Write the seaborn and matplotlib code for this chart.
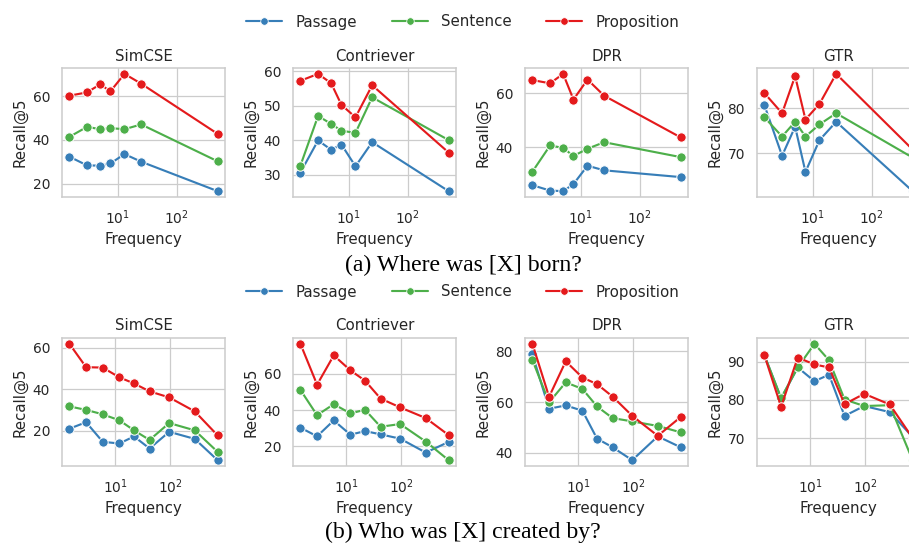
import matplotlib
matplotlib.use("Agg")
import matplotlib.pyplot as plt
from matplotlib.lines import Line2D
import pandas as pd
import seaborn as sns

# ---------------- data ----------------
methods = ["Passage", "Sentence", "Proposition"]
retrievers = ["SimCSE", "Contriever", "DPR", "GTR"]

# (a) Where was [X] born?
freq_a = [1.5, 3, 5, 7.5, 13, 25, 500]
a_simcse_passage = [32.3, 28.3, 28.2, 29.2, 33.5, 30.0, 16.5]
a_simcse_sentence = [41.4, 46.0, 44.9, 45.4, 44.9, 47.1, 30.2]
a_simcse_proposition = [60.3, 61.8, 65.5, 62.3, 70.3, 65.8, 42.8]
a_contriever_passage = [30.7, 40.0, 37.3, 38.8, 32.5, 39.5, 25.3]
a_contriever_sentence = [32.7, 47.1, 44.8, 42.8, 42.2, 52.5, 40.1]
a_contriever_proposition = [57.3, 59.3, 56.6, 50.3, 46.7, 56.0, 36.5]
a_dpr_passage = [26.0, 24.0, 23.8, 26.4, 33.2, 31.5, 29.0]
a_dpr_sentence = [31.0, 40.7, 39.8, 36.8, 39.5, 41.9, 36.4]
a_dpr_proposition = [64.9, 63.7, 67.2, 57.7, 65.1, 59.1, 43.7]
a_gtr_passage = [80.7, 69.4, 75.9, 65.8, 72.9, 77.0, 61.5]
a_gtr_sentence = [78.0, 73.7, 77.0, 73.7, 76.4, 78.9, 69.0]
a_gtr_proposition = [83.4, 78.9, 87.2, 77.5, 81.0, 87.7, 70.8]

# (b) Who was [X] created by?
freq_b = [1.5, 3, 6, 12, 22, 42, 95, 275, 710]
b_simcse_passage = [21.1, 24.2, 14.8, 14.0, 17.4, 11.6, 19.6, 16.2, 6.0]
b_simcse_sentence = [31.8, 30.1, 28.0, 25.1, 20.3, 15.7, 23.8, 20.3, 10.0]
b_simcse_proposition = [61.8, 50.6, 50.4, 45.7, 42.8, 39.0, 36.1, 29.4, 17.9]
b_contriever_passage = [30.3, 25.5, 34.3, 26.4, 28.4, 26.6, 24.2, 16.5, 22.4]
b_contriever_sentence = [51.2, 37.2, 43.3, 38.2, 40.2, 30.8, 32.3, 22.6, 12.3]
b_contriever_proposition = [76.7, 54.1, 70.3, 62.0, 56.3, 46.4, 41.5, 35.6, 26.2]
b_dpr_passage = [78.8, 57.4, 58.7, 56.6, 45.6, 42.2, 37.1, 46.5, 42.2]
b_dpr_sentence = [76.6, 59.9, 67.8, 65.2, 58.3, 53.7, 52.4, 50.6, 48.1]
b_dpr_proposition = [83.0, 62.1, 76.1, 69.7, 67.1, 62.2, 54.6, 46.7, 54.1]
b_gtr_passage = [91.7, 80.4, 88.5, 84.9, 86.6, 75.8, 78.4, 76.8, 70.3]
b_gtr_sentence = [91.7, 80.5, 88.5, 94.7, 90.4, 80.1, 78.4, 78.6, 64.2]
b_gtr_proposition = [91.7, 78.2, 91.1, 89.3, 88.5, 78.9, 81.6, 78.8, 70.0]

captions = ["(a) Where was [X] born?", "(b) Who was [X] created by?"]

series_a = {
    "SimCSE": [a_simcse_passage, a_simcse_sentence, a_simcse_proposition],
    "Contriever": [a_contriever_passage, a_contriever_sentence, a_contriever_proposition],
    "DPR": [a_dpr_passage, a_dpr_sentence, a_dpr_proposition],
    "GTR": [a_gtr_passage, a_gtr_sentence, a_gtr_proposition],
}
series_b = {
    "SimCSE": [b_simcse_passage, b_simcse_sentence, b_simcse_proposition],
    "Contriever": [b_contriever_passage, b_contriever_sentence, b_contriever_proposition],
    "DPR": [b_dpr_passage, b_dpr_sentence, b_dpr_proposition],
    "GTR": [b_gtr_passage, b_gtr_sentence, b_gtr_proposition],
}

yticks_a = [[20, 40, 60], [30, 40, 50, 60], [40, 60], [70, 80]]
yticks_b = [[20, 40, 60], [20, 40, 60], [40, 60, 80], [70, 80, 90]]

# ---------------- style ----------------
sns.set_theme(style="whitegrid")
palette = {"Passage": "#377eb8", "Sentence": "#4daf4a", "Proposition": "#e41a1c"}

DPI = 90
W, H = 909, 543
fig = plt.figure(figsize=(W / DPI, H / DPI), dpi=DPI)

AX_LEFT = [62, 293, 525, 757]
AX_W = 163
ROW_TOP = [68, 338]
ROW_BOT = [197, 466]
LEG_Y = [22, 292]
CAP_Y = [265, 532]
CENTER_X = 463


def to_long(freq, vals):
    rows = []
    for m, v in zip(methods, vals):
        for f, y in zip(freq, v):
            rows.append({"Frequency": f, "Recall@5": y, "Method": m})
    return pd.DataFrame(rows)


for r, (freq, series, yticks) in enumerate(
    [(freq_a, series_a, yticks_a), (freq_b, series_b, yticks_b)]
):
    for c, name in enumerate(retrievers):
        left = AX_LEFT[c] / W
        bottom = 1 - ROW_BOT[r] / H
        height = (ROW_BOT[r] - ROW_TOP[r]) / H
        ax = fig.add_axes([left, bottom, AX_W / W, height])
        df = to_long(freq, series[name])
        ax.set_xscale("log")
        sns.lineplot(
            data=df, x="Frequency", y="Recall@5", hue="Method",
            hue_order=methods, palette=palette, marker="o",
            markersize=7.5, markeredgecolor="white", markeredgewidth=0.8,
            linewidth=1.7, legend=False, ax=ax,
        )
        ax.set_yticks(yticks[c])
        ax.set_title(name)
        ax.set_xlabel("Frequency")
        ax.set_ylabel("Recall@5")

    handles = [
        Line2D([], [], color=palette[m], marker="o", markersize=6,
               markeredgecolor="white", markeredgewidth=0.6, linewidth=1.7)
        for m in methods
    ]
    fig.legend(
        handles, methods, loc="center", ncol=3, frameon=False,
        bbox_to_anchor=(CENTER_X / W, 1 - LEG_Y[r] / H),
        fontsize=12, handlelength=2.4, handletextpad=0.9, columnspacing=2.3,
    )
    fig.text(CENTER_X / W, 1 - CAP_Y[r] / H, captions[r], ha="center",
             va="center", fontsize=19, family="Liberation Serif",
             color="black")

fig.savefig("out.png", dpi=DPI)
